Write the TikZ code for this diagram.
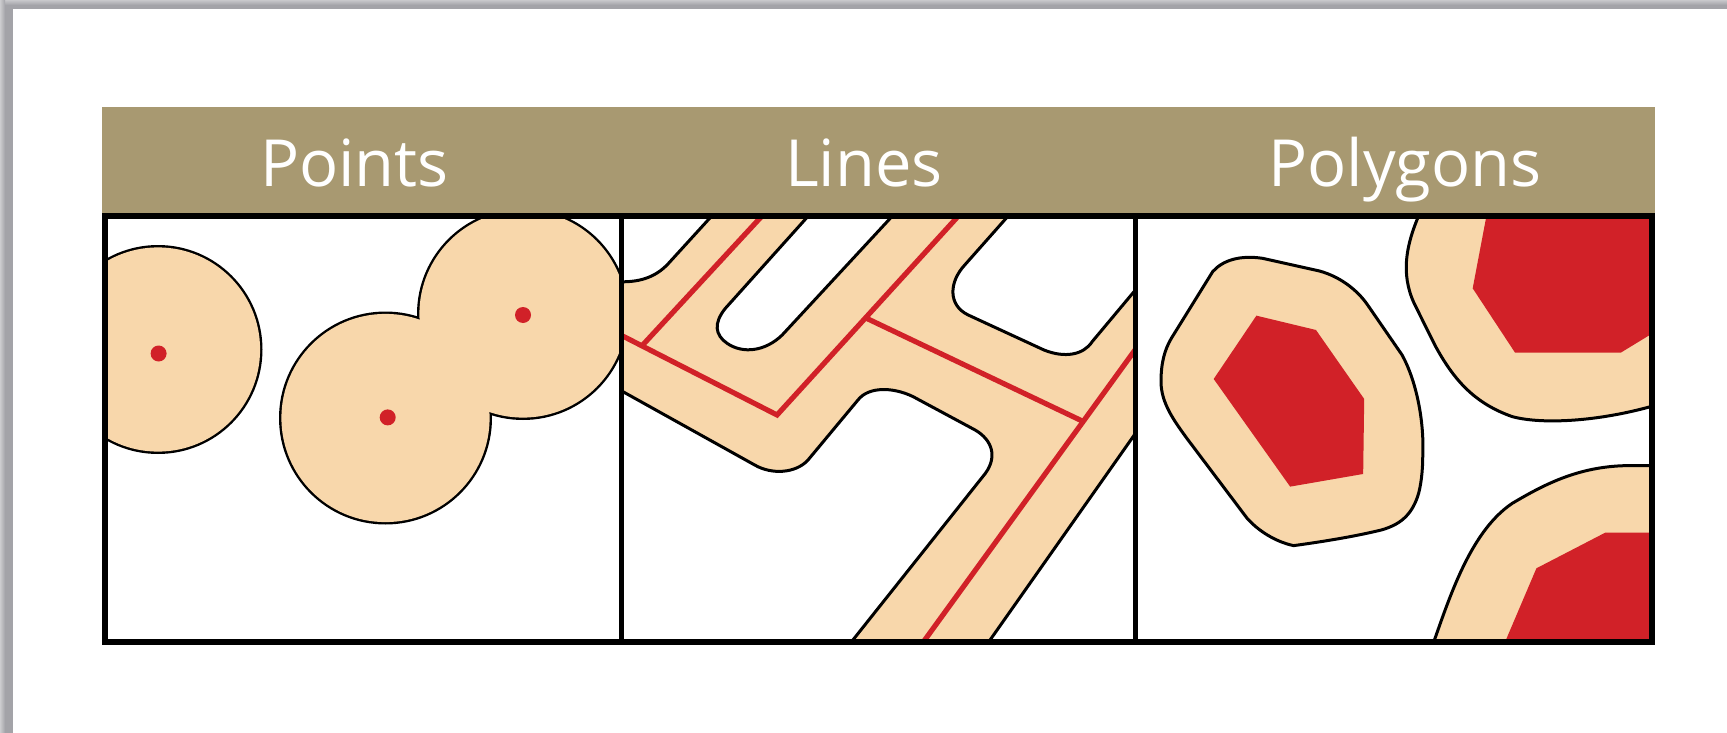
\documentclass[tikz,border=0pt]{standalone}
\usepackage{fontspec}
\setmainfont{Open Sans}
\definecolor{tan}{HTML}{F8D7AB}
\definecolor{redx}{HTML}{D12128}
\definecolor{bandc}{HTML}{A89971}
\definecolor{edgec}{HTML}{A3A3A8}
\tikzset{
  title/.style={text=white,anchor=base,inner sep=0pt,font=\fontsize{65}{65}\selectfont},
  buffer/.style={fill=tan,draw=black,line width=3pt,line join=round},
  holes/.style={fill=white,draw=black,line width=3pt,line join=round},
  redline/.style={draw=redx,line width=5.2pt},
  redfill/.style={fill=redx},
  framec/.style={draw=black,line width=6pt},
  zoomtwo/.style={shift={(610,200)},x=0.3444pt,y=-0.3333pt},
  zoomthree/.style={shift={(1130,200)},x=0.3444pt,y=-0.3333pt},
}
\begin{document}
\begin{tikzpicture}[x=1pt,y=-1pt]
\useasboundingbox (0,0) rectangle (1727,733);
\fill[white] (0,0) rectangle (1727,733);
% page edge
\shade[top color=edgec!60,bottom color=edgec] (0,0) rectangle (1727,5);
\fill[edgec] (0,5) rectangle (1727,9.5);
\shade[left color=edgec!55,right color=edgec] (0,0) rectangle (5,733);
\fill[edgec] (5,5) rectangle (13,733);
% band
\fill[bandc] (102,107) rectangle (1655,214);
\node[title] (tpoints) at (354.5,186) {Points};
\node[title] (tlines) at (864,186) {Lines};
\node[title] (tpolys) at (1405,186) {Polygons};
% points panel
\begin{scope}
\clip (105,216) rectangle (621,641);
\foreach \c/\r in {{(158,349.5)}/103,{(385.5,418)}/105,{(523,314)}/104.5}
  \draw[buffer] \c circle (\r);
\foreach \c/\r in {{(158,349.5)}/103,{(385.5,418)}/105,{(523,314)}/104.5}
  \fill[tan] \c circle (\r-0.9);
\fill[redx] (158.6,353.5) circle (8);
\fill[redx] (387.7,417.4) circle (8);
\fill[redx] (523,315) circle (8);
\end{scope}
% lines panel
\begin{scope}
\clip (621,216) rectangle (1135,641);
\fill[tan] (621,216) rectangle (1135,641);
\begin{scope}[zoomtwo]
\draw[holes] (-20,20) -- (320,20) -- (170,190) .. controls (130,235) and (80,248) .. (20,245) -- (-20,245) -- cycle;
\draw[holes] (600,20) -- (335,325) .. controls (300,370) and (305,405) .. (340,430) .. controls (385,462) and (450,455) .. (500,405) -- (845,20) -- cycle;
\draw[holes] (1180,20) -- (1030,195) .. controls (985,245) and (980,315) .. (1040,345) -- (1260,450) .. controls (1320,475) and (1375,465) .. (1400,425) -- (1570,215) -- (1570,20) -- cycle;
\draw[holes] (-20,542) -- (420,795) .. controls (470,825) and (540,820) .. (575,780) -- (720,600) .. controls (750,560) and (820,560) .. (880,590) -- (1060,690) .. controls (1110,720) and (1125,770) .. (1090,820) -- (690,1340) -- (-20,1340) -- cycle;
\draw[holes] (1570,635) -- (1090,1340) -- (1570,1340) -- cycle;
\draw[redline,line join=miter] (-20,378) -- (485,645) -- (1030,27);
\draw[redline] (95,435) -- (460,27);
\draw[redline] (745,355) -- (1375,665);
\draw[redline] (1570,385) -- (900,1340);
\end{scope}
\end{scope}
% polygons panel
\begin{scope}
\clip (1135,216) rectangle (1652,641);
\begin{scope}[zoomthree]
\draw[buffer] (240,215) .. controls (270,180) and (320,165) .. (385,175) -- (550,213) .. controls (610,230) and (660,270) .. (690,315) -- (790,465) .. controls (830,540) and (855,660) .. (850,770) .. controls (850,810) and (845,860) .. (835,890) .. controls (815,950) and (780,975) .. (730,990) .. controls (650,1010) and (560,1025) .. (475,1037) .. controls (420,1025) and (370,990) .. (340,955) -- (165,715) .. controls (130,665) and (90,610) .. (90,545) .. controls (90,490) and (100,450) .. (120,415) -- cycle;
\fill[redfill] (367,347) -- (540,390) -- (680,597) -- (677,822) -- (465,860) -- (243,537) -- cycle;
\draw[buffer] (850,20) .. controls (800,130) and (785,220) .. (825,310) -- (885,435) .. controls (940,540) and (1000,610) .. (1110,650) .. controls (1200,675) and (1380,665) .. (1560,605) -- (1560,20) -- cycle;
\fill[redfill] (1040,20) -- (995,265) -- (1118,458) -- (1425,458) -- (1560,373) -- (1560,20) -- cycle;
\draw[buffer] (870,1360) .. controls (920,1220) and (980,1000) .. (1110,910) .. controls (1200,855) and (1300,800) .. (1440,797) -- (1560,797) -- (1560,1360) -- cycle;
\fill[redfill] (1075,1360) -- (1180,1105) -- (1380,998) -- (1560,998) -- (1560,1360) -- cycle;
\end{scope}
\end{scope}
% frames
\draw[framec,line cap=rect] (105,216) rectangle (1652,641.5);
\draw[framec,line width=5pt] (621,216) -- (621,641);
\draw[framec,line width=5pt] (1135,216) -- (1135,641);
\end{tikzpicture}
\end{document}
